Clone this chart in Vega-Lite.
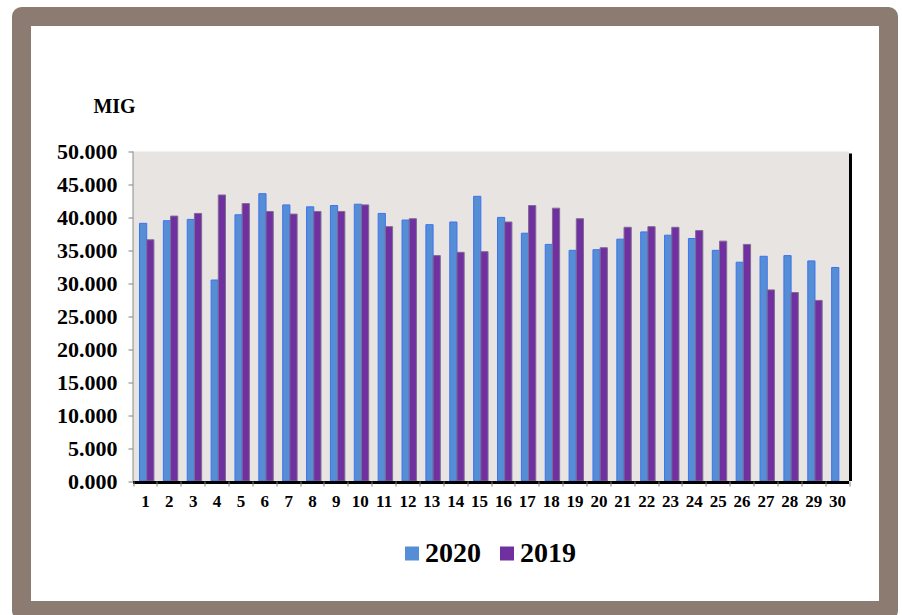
{
  "$schema": "https://vega.github.io/schema/vega-lite/v6.json",
  "width": 867,
  "height": 594,
  "autosize": {"type": "none"},
  "padding": {"left": 21.5, "top": 16.5, "right": 13.5, "bottom": 4.5},
  "background": "white",
  "config": {
    "view": {"fill": "white", "stroke": "#8B7B70", "strokeWidth": 19, "strokeJoin": "round"},
    "font": "Liberation Serif"
  },
  "data": {
    "values": [
      {"day": 1, "year": "2020", "value": 39.1}, {"day": 1, "year": "2019", "value": 36.6},
      {"day": 2, "year": "2020", "value": 39.5}, {"day": 2, "year": "2019", "value": 40.2},
      {"day": 3, "year": "2020", "value": 39.7}, {"day": 3, "year": "2019", "value": 40.6},
      {"day": 4, "year": "2020", "value": 30.5}, {"day": 4, "year": "2019", "value": 43.4},
      {"day": 5, "year": "2020", "value": 40.4}, {"day": 5, "year": "2019", "value": 42.1},
      {"day": 6, "year": "2020", "value": 43.6}, {"day": 6, "year": "2019", "value": 40.9},
      {"day": 7, "year": "2020", "value": 41.9}, {"day": 7, "year": "2019", "value": 40.5},
      {"day": 8, "year": "2020", "value": 41.6}, {"day": 8, "year": "2019", "value": 40.9},
      {"day": 9, "year": "2020", "value": 41.8}, {"day": 9, "year": "2019", "value": 40.9},
      {"day": 10, "year": "2020", "value": 42.0}, {"day": 10, "year": "2019", "value": 41.9},
      {"day": 11, "year": "2020", "value": 40.6}, {"day": 11, "year": "2019", "value": 38.6},
      {"day": 12, "year": "2020", "value": 39.6}, {"day": 12, "year": "2019", "value": 39.8},
      {"day": 13, "year": "2020", "value": 38.9}, {"day": 13, "year": "2019", "value": 34.2},
      {"day": 14, "year": "2020", "value": 39.3}, {"day": 14, "year": "2019", "value": 34.7},
      {"day": 15, "year": "2020", "value": 43.2}, {"day": 15, "year": "2019", "value": 34.8},
      {"day": 16, "year": "2020", "value": 40.0}, {"day": 16, "year": "2019", "value": 39.3},
      {"day": 17, "year": "2020", "value": 37.6}, {"day": 17, "year": "2019", "value": 41.8},
      {"day": 18, "year": "2020", "value": 35.9}, {"day": 18, "year": "2019", "value": 41.4},
      {"day": 19, "year": "2020", "value": 35.0}, {"day": 19, "year": "2019", "value": 39.8},
      {"day": 20, "year": "2020", "value": 35.1}, {"day": 20, "year": "2019", "value": 35.4},
      {"day": 21, "year": "2020", "value": 36.7}, {"day": 21, "year": "2019", "value": 38.5},
      {"day": 22, "year": "2020", "value": 37.8}, {"day": 22, "year": "2019", "value": 38.6},
      {"day": 23, "year": "2020", "value": 37.3}, {"day": 23, "year": "2019", "value": 38.5},
      {"day": 24, "year": "2020", "value": 36.8}, {"day": 24, "year": "2019", "value": 38.0},
      {"day": 25, "year": "2020", "value": 35.0}, {"day": 25, "year": "2019", "value": 36.4},
      {"day": 26, "year": "2020", "value": 33.2}, {"day": 26, "year": "2019", "value": 35.9},
      {"day": 27, "year": "2020", "value": 34.1}, {"day": 27, "year": "2019", "value": 29.0},
      {"day": 28, "year": "2020", "value": 34.2}, {"day": 28, "year": "2019", "value": 28.6},
      {"day": 29, "year": "2020", "value": 33.4}, {"day": 29, "year": "2019", "value": 27.4},
      {"day": 30, "year": "2020", "value": 32.4}
    ]
  },
  "layer": [
    {
      "data": {"values": [{}]},
      "mark": {"type": "rect", "fill": "#E8E4E1"},
      "encoding": {
        "x": {"datum": 1, "type": "ordinal", "bandPosition": 0, "title": null},
        "x2": {"datum": 30, "bandPosition": 1},
        "y": {"datum": 0, "type": "quantitative", "title": "MIG"},
        "y2": {"datum": 50}
      }
    },
    {
      "mark": {"type": "bar", "strokeWidth": 1},
      "encoding": {
        "x": {
          "field": "day", "type": "ordinal", "title": null,
          "scale": {"range": [111.5, 827.5], "paddingInner": 0, "paddingOuter": 0},
          "axis": {
            "offset": -129.5, "domain": false, "grid": false,
            "tickBand": "extent", "tickColor": "#808080", "tickSize": 5,
            "labelAngle": 0, "labelAlign": "center", "labelBaseline": "top",
            "labelFont": "Liberation Serif", "labelFontSize": 17,
            "labelFontWeight": "bold", "labelColor": "black", "labelPadding": 7
          }
        },
        "xOffset": {
          "field": "year", "type": "nominal", "sort": ["2020", "2019"],
          "scale": {"paddingInner": 0, "paddingOuter": 0.6574, "align": 0.687}
        },
        "y": {
          "field": "value", "type": "quantitative", "title": "MIG",
          "scale": {"domain": [-19.651, 70.486], "nice": false, "zero": false},
          "axis": {
            "offset": -111.5, "domain": false, "grid": false,
            "values": [0, 5, 10, 15, 20, 25, 30, 35, 40, 45, 50], "format": ".3f",
            "tickColor": "#808080", "tickSize": 5,
            "labelFont": "Liberation Serif", "labelFontSize": 22, "labelFontWeight": "bold",
            "labelColor": "black", "labelPadding": 11,
            "titleAngle": 0, "titleX": -19, "titleY": 89.5, "titleAlign": "center",
            "titleBaseline": "middle", "titleFont": "Liberation Serif", "titleFontSize": 20,
            "titleFontWeight": "bold", "titleColor": "black"
          }
        },
        "y2": {"datum": 0},
        "fill": {
          "field": "year", "type": "nominal",
          "scale": {"domain": ["2020", "2019"], "range": ["#558ED5", "#7030A0"]},
          "legend": {
            "title": null, "orient": "none", "legendX": 376.5, "legendY": 523,
            "direction": "horizontal", "symbolType": "square", "symbolSize": 196,
            "symbolStrokeWidth": 0, "labelFont": "Liberation Serif", "labelFontSize": 28,
            "labelFontWeight": "bold", "labelColor": "black", "labelOffset": -1,
            "columnPadding": 12
          }
        },
        "stroke": {
          "field": "year", "type": "nominal",
          "scale": {"domain": ["2020", "2019"], "range": ["#3F72F0", "#7E6C93"]},
          "legend": null
        }
      }
    },
    {
      "data": {"values": [{}]},
      "mark": {"type": "rule", "color": "#8C8C8C", "strokeWidth": 1},
      "encoding": {
        "x": {"datum": 1, "type": "ordinal", "bandPosition": 0, "title": null},
        "y": {"datum": 0, "type": "quantitative", "title": "MIG"},
        "y2": {"datum": 50}
      }
    },
    {
      "data": {"values": [{}]},
      "mark": {"type": "rule", "color": "black", "strokeWidth": 3, "yOffset": 1.5},
      "encoding": {
        "x": {"datum": 1, "type": "ordinal", "bandPosition": 0, "title": null},
        "x2": {"datum": 30, "bandPosition": 1},
        "y": {"datum": 0, "type": "quantitative", "title": "MIG"}
      }
    },
    {
      "data": {"values": [{}]},
      "mark": {"type": "rule", "color": "black", "strokeWidth": 3, "xOffset": 1.5},
      "encoding": {
        "x": {"datum": 30, "type": "ordinal", "bandPosition": 1, "title": null},
        "y": {"datum": 49.7, "type": "quantitative", "title": "MIG"},
        "y2": {"datum": 0}
      }
    }
  ]
}
